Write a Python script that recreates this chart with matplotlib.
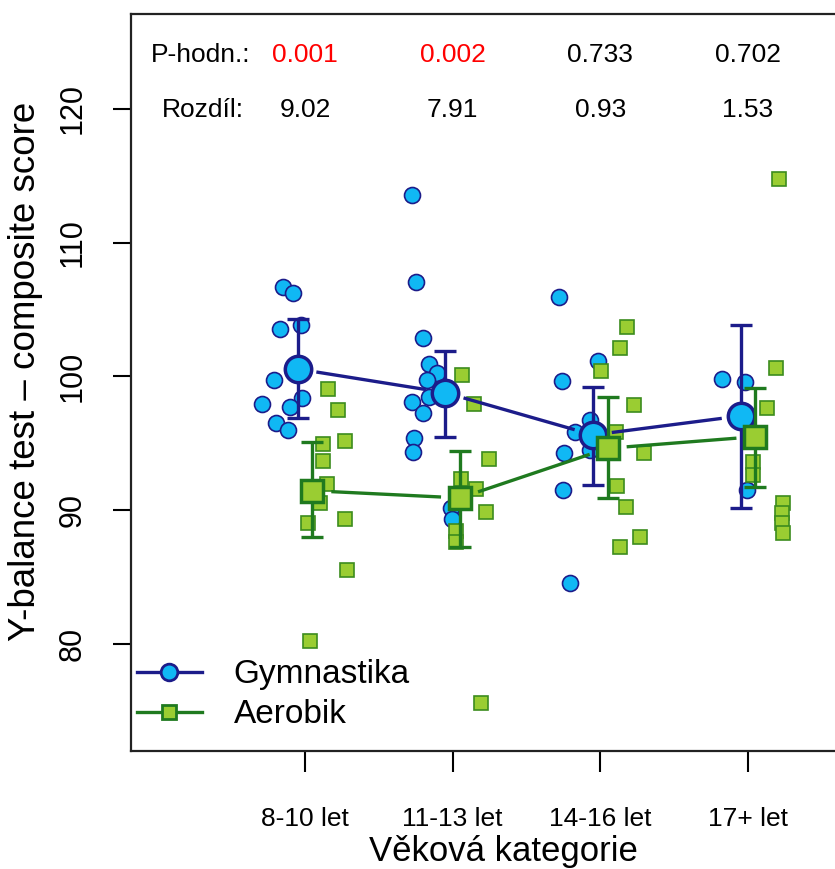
import matplotlib.pyplot as plt
from matplotlib.lines import Line2D

plt.rcParams['font.family'] = ['Liberation Sans', 'DejaVu Sans']

# --- DATA ---
categories = ['8-10 let', '11-13 let', '14-16 let', '17+ let']
p_values = ['0.001', '0.002', '0.733', '0.702']
p_significant = [True, True, False, False]
differences = ['9.02', '7.91', '0.93', '1.53']

# Gymnastika: individual scores and their horizontal jitter (category units)
gym_scores = [
    [106.67, 106.22, 103.53, 103.85, 99.74, 98.37, 97.92, 97.70, 96.50, 96.00],
    [113.60, 107.10, 102.90, 100.93, 100.23, 99.75, 98.44, 98.08, 97.29, 95.38,
     94.33, 90.13, 89.35],
    [105.97, 101.18, 99.66, 96.75, 95.88, 94.26, 91.51, 84.54, 94.50],
    [99.81, 99.61, 91.51],
]
gym_jitter = [
    [-0.147, -0.079, -0.169, -0.029, -0.210, -0.022, -0.293, -0.102, -0.198, -0.113],
    [-0.273, -0.251, -0.198, -0.160, -0.108, -0.176, -0.160, -0.273, -0.198, -0.262,
     -0.266, -0.014, -0.002],
    [-0.278, -0.018, -0.259, -0.068, -0.169, -0.244, -0.253, -0.203, -0.068],
    [-0.174, -0.020, -0.009],
]
gym_mean = [100.56, 98.79, 95.63, 97.05]
gym_ci_low = [96.87, 95.51, 91.89, 90.14]
gym_ci_high = [104.30, 101.94, 99.24, 103.85]

# Aerobik
aer_scores = [
    [99.07, 97.50, 95.20, 94.95, 93.68, 91.96, 90.52, 89.02, 89.35, 85.53, 80.20],
    [100.10, 97.92, 93.80, 89.87, 92.36, 91.57, 88.43, 87.64, 75.59],
    [103.73, 102.16, 100.41, 97.87, 95.88, 94.31, 91.81, 90.22, 87.98, 87.23],
    [114.77, 100.61, 97.62, 93.63, 92.64, 90.52, 89.77, 89.02, 88.32],
]
aer_jitter = [
    [0.158, 0.225, 0.271, 0.124, 0.120, 0.147, 0.102, 0.022, 0.271, 0.282, 0.034],
    [0.066, 0.144, 0.246, 0.223, 0.054, 0.156, 0.020, 0.020, 0.190],
    [0.181, 0.131, 0.007, 0.225, 0.108, 0.298, 0.113, 0.176, 0.266, 0.131],
    [0.212, 0.190, 0.127, 0.032, 0.036, 0.239, 0.228, 0.228, 0.235],
]
aer_mean = [91.46, 90.92, 94.63, 95.50]
aer_ci_low = [88.02, 87.25, 90.89, 91.76]
aer_ci_high = [95.13, 94.46, 98.49, 99.12]

# --- STYLE ---
GYM_LINE = '#1C1C8A'
GYM_FILL = '#10B8F4'
AER_LINE = '#1F7A1F'
AER_FILL = '#9ACD32'
AER_EDGE = '#3C8C1E'
MEAN_SHIFT = 0.05


def gapped_line(ax, xs, ys, color, gap_px):
    # R-style type="b": segments stop short of the markers
    pts = ax.transData.transform(list(zip(xs, ys)))
    inv = ax.transData.inverted()
    for (x0, y0), (x1, y1) in zip(pts[:-1], pts[1:]):
        dx, dy = x1 - x0, y1 - y0
        d = (dx ** 2 + dy ** 2) ** 0.5
        a = inv.transform((x0 + dx * gap_px / d, y0 + dy * gap_px / d))
        b = inv.transform((x1 - dx * gap_px / d, y1 - dy * gap_px / d))
        ax.plot([a[0], b[0]], [a[1], b[1]], color=color, lw=2.4, zorder=3,
                solid_capstyle='butt')


fig = plt.figure(figsize=(8.35, 8.69), dpi=100)
ax = fig.add_axes([131 / 835, 1 - 751 / 869, 744 / 835, 737 / 869])
ax.set_xlim(-1.178, 3.86)
ax.set_ylim(72.0, 127.1)

pos = range(len(categories))

# individual points
for i in pos:
    ax.plot([i + j for j in gym_jitter[i]], gym_scores[i], 'o', ms=11.5,
            mfc=GYM_FILL, mec=GYM_LINE, mew=1.2, ls='none', zorder=2)
for i in pos:
    ax.plot([i + j for j in aer_jitter[i]], aer_scores[i], 's', ms=10,
            mfc=AER_FILL, mec=AER_EDGE, mew=1.2, ls='none', zorder=2)

gx = [i - MEAN_SHIFT for i in pos]
ax_ = [i + MEAN_SHIFT for i in pos]

# means, confidence intervals, connecting lines
gym_err = [[m - lo for m, lo in zip(gym_mean, gym_ci_low)],
           [hi - m for m, hi in zip(gym_mean, gym_ci_high)]]
ax.errorbar(gx, gym_mean, yerr=gym_err, fmt='none', ecolor=GYM_LINE,
            elinewidth=2.4, capsize=8, capthick=2.4, zorder=4)
gapped_line(ax, gx, gym_mean, GYM_LINE, 19)
ax.plot(gx, gym_mean, 'o', ms=19, mfc=GYM_FILL, mec=GYM_LINE, mew=2.5,
        ls='none', zorder=5)

aer_err = [[m - lo for m, lo in zip(aer_mean, aer_ci_low)],
           [hi - m for m, hi in zip(aer_mean, aer_ci_high)]]
ax.errorbar(ax_, aer_mean, yerr=aer_err, fmt='none', ecolor=AER_LINE,
            elinewidth=2.4, capsize=8, capthick=2.4, zorder=6)
gapped_line(ax, ax_, aer_mean, AER_LINE, 19)
ax.plot(ax_, aer_mean, 's', ms=16, mfc=AER_FILL, mec=AER_LINE, mew=2.5,
        ls='none', zorder=7)

# p-values and differences above the data
ax.text(-0.704, 124.0, 'P-hodn.:', ha='center', va='center', fontsize=19)
ax.text(-0.690, 119.93, 'Rozdíl:', ha='center', va='center', fontsize=19)
for i in pos:
    ax.text(i, 124.0, p_values[i], ha='center', va='center', fontsize=19,
            color='#FF0000' if p_significant[i] else 'black')
    ax.text(i, 119.93, differences[i], ha='center', va='center', fontsize=19)

# axes
ax.set_xticks(list(pos), categories)
ax.set_yticks([80, 90, 100, 110, 120])
ax.tick_params(axis='x', length=15, width=1.5, pad=25, labelsize=19)
ax.tick_params(axis='y', length=13, width=1.5, pad=18, labelsize=22)
for lab in ax.get_yticklabels():
    lab.set_rotation(90)
    lab.set_va('center')
for s in ax.spines.values():
    s.set_linewidth(1.6)
    s.set_color('#222222')

ax.set_xlabel('Věková kategorie', fontsize=25, labelpad=3)
ax.set_ylabel('Y-balance test – composite score', fontsize=26.5)
ax.yaxis.set_label_coords(-0.118, 0.5156)

handles = [
    Line2D([], [], color=GYM_LINE, lw=2.4, marker='o', ms=12,
           mfc=GYM_FILL, mec=GYM_LINE, mew=2),
    Line2D([], [], color=AER_LINE, lw=2.4, marker='s', ms=10,
           mfc=AER_FILL, mec=AER_LINE, mew=2),
]
ax.legend(handles, ['Gymnastika', 'Aerobik'], loc='upper left',
          bbox_to_anchor=(0.008, 0.1246), frameon=False, fontsize=24,
          handlelength=1.95, handletextpad=0.95, labelspacing=0.27,
          borderpad=0, borderaxespad=0)

fig.savefig('out.png', dpi=100)
